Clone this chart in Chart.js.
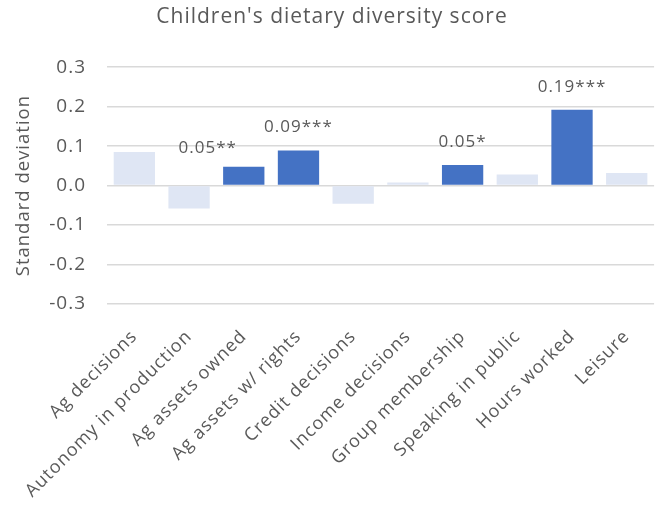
<!DOCTYPE html>
<html>
<head>
<meta charset="utf-8">
<script src="https://cdn.jsdelivr.net/npm/chart.js@4"></script>
<style>
  html, body { margin: 0; padding: 0; background: #ffffff; overflow: hidden; }
  #wrap { width: 664px; height: 515px; }
</style>
</head>
<body>
<div id="wrap"><canvas id="chart" width="664" height="515"></canvas></div>
<script>
// Empowerment indicators and their effect (in standard deviations)
const categories = [
  'Ag decisions', 'Autonomy in production', 'Ag assets owned', 'Ag assets w/ rights',
  'Credit decisions', 'Income decisions', 'Group membership', 'Speaking in public',
  'Hours worked', 'Leisure'
];
const effects = [0.085, -0.058, 0.048, 0.089, -0.046, 0.008, 0.052, 0.028, 0.192, 0.032];
const significance = ['', '', '**', '***', '', '', '*', '', '***', ''];
const yTickValues = [-0.3, -0.2, -0.1, 0.0, 0.1, 0.2, 0.3];

const TEXT = '#595959';
const FONT = '"Open Sans", sans-serif';
const DARK = '#4472C4';
const LIGHT = '#DFE6F4';

// Significant estimates are solid blue and carry a value label
const barColors = significance.map(s => s ? DARK : LIGHT);

// Slightly looser tracking for every piece of text on the canvas
const tracking = {
  id: 'tracking',
  beforeUpdate(chart) { chart.ctx.letterSpacing = '1px'; },
  beforeLayout(chart) { chart.ctx.letterSpacing = '1px'; },
  beforeDraw(chart) { chart.ctx.letterSpacing = '1px'; }
};

const valueLabels = {
  id: 'valueLabels',
  afterDatasetsDraw(chart, args, opts) {
    const ctx = chart.ctx;
    const meta = chart.getDatasetMeta(0);
    ctx.save();
    ctx.font = '17px ' + FONT;
    ctx.fillStyle = TEXT;
    ctx.textAlign = 'center';
    ctx.textBaseline = 'middle';
    meta.data.forEach((bar, i) => {
      if (!significance[i]) return;
      const nudge = (opts.nudge && opts.nudge[i]) || { dx: 0, dy: 0 };
      const text = effects[i].toFixed(2) + significance[i];
      ctx.fillText(text, bar.x + nudge.dx, bar.y - opts.gap + nudge.dy);
    });
    ctx.restore();
  }
};

new Chart(document.getElementById('chart'), {
  type: 'bar',
  data: {
    labels: categories,
    datasets: [{
      data: effects,
      backgroundColor: barColors,
      borderWidth: 0,
      barPercentage: 0.755,
      categoryPercentage: 1.0
    }]
  },
  options: {
    responsive: false,
    animation: false,
    layout: { padding: 0 },
    plugins: {
      legend: { display: false },
      tooltip: { enabled: false },
      title: {
        display: true,
        text: "Children's dietary diversity score",
        color: TEXT,
        font: { family: FONT, size: 21, weight: 'normal' },
        padding: { top: 4, bottom: 38 }
      },
      valueLabels: { gap: 23, nudge: { 2: { dx: -36, dy: 5 } } }
    },
    scales: {
      x: {
        grid: { display: false, drawTicks: false },
        border: { display: false },
        ticks: {
          color: TEXT,
          font: { family: FONT, size: 18 },
          minRotation: 45,
          maxRotation: 45,
          autoSkip: false,
          padding: 22
        },
        afterFit(scale) { scale.height = 211; }
      },
      y: {
        min: -0.3,
        max: 0.3,
        grid: {
          color: '#D9D9D9',
          lineWidth: 1.5,
          drawTicks: false
        },
        border: { display: false },
        ticks: {
          color: TEXT,
          font: { family: FONT, size: 19 },
          padding: 21,
          callback: v => (Math.abs(v) < 1e-9 ? 0 : v).toFixed(1)
        },
        afterBuildTicks(scale) {
          scale.ticks = yTickValues.map(v => ({ value: v }));
        },
        title: {
          display: true,
          text: 'Standard deviation',
          color: TEXT,
          font: { family: FONT, size: 18.5 },
          padding: { top: 13, bottom: 0 }
        },
        afterFit(scale) { scale.width = 107; }
      }
    }
  },
  plugins: [tracking, valueLabels]
});
</script>
</body>
</html>
